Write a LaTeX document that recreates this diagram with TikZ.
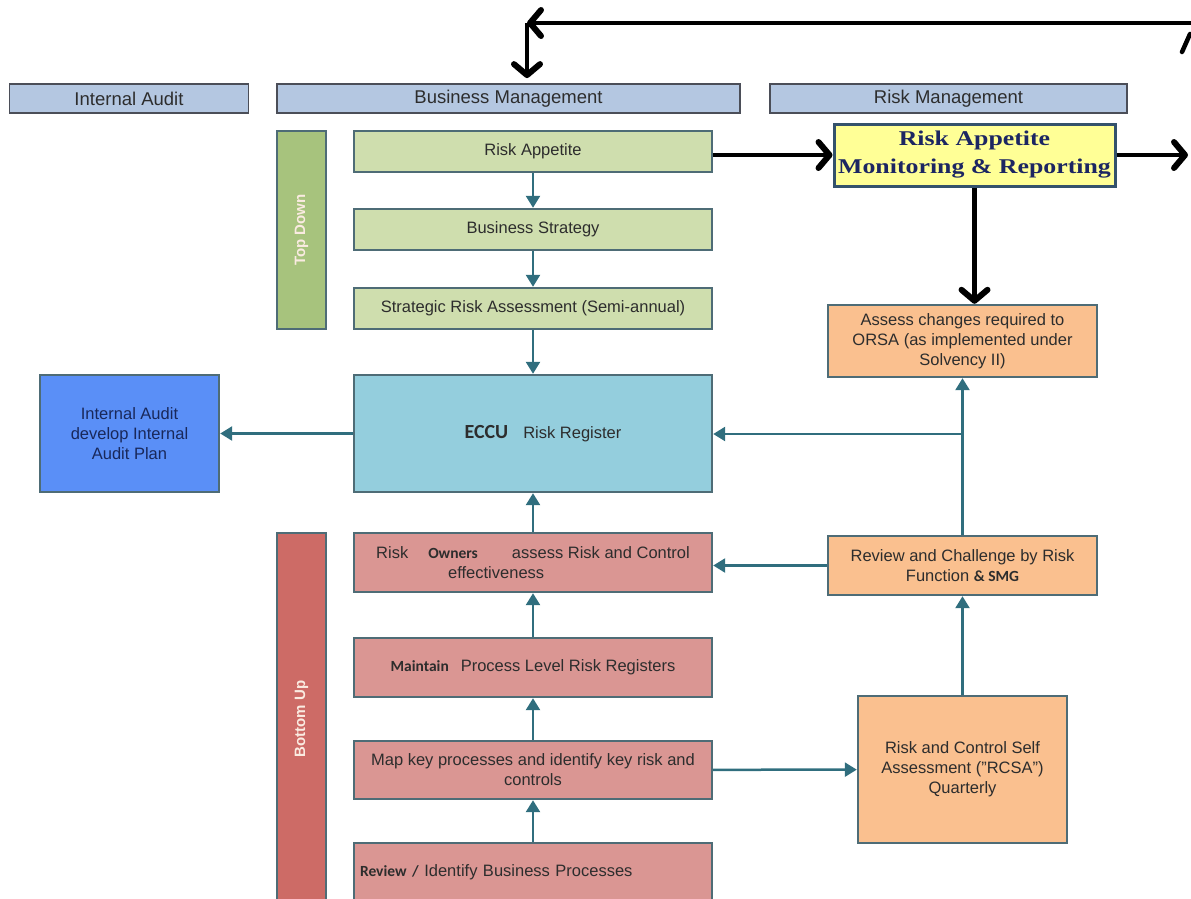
\documentclass[tikz,border=0pt]{standalone}
\usepackage{fontspec}
\setmainfont{Liberation Sans}
\newfontfamily\carl{Carlito}
\newfontfamily\rafont[FakeStretch=1.23]{Liberation Serif}
\usetikzlibrary{arrows.meta}
\definecolor{hdrfill}{RGB}{180,199,225}
\definecolor{hdrborder}{RGB}{75,78,88}
\definecolor{boxborder}{RGB}{78,108,118}
\definecolor{greenbox}{RGB}{207,222,174}
\definecolor{greenbar}{RGB}{167,195,125}
\definecolor{eccufill}{RGB}{148,206,221}
\definecolor{iablue}{RGB}{90,143,247}
\definecolor{pinkbox}{RGB}{218,150,147}
\definecolor{pinkbar}{RGB}{205,107,102}
\definecolor{orangebox}{RGB}{250,192,143}
\definecolor{yfill}{RGB}{255,255,150}
\definecolor{yborder}{RGB}{52,82,108}
\definecolor{navy}{RGB}{28,38,98}
\definecolor{teal}{RGB}{48,110,126}
\definecolor{txt}{RGB}{45,45,45}
\definecolor{iatxt}{RGB}{25,40,90}
\definecolor{bartxt}{RGB}{250,235,225}
\begin{document}
\begin{tikzpicture}[x=1pt,y=-1pt,
  hdr/.style={draw=hdrborder, line width=1.8pt, fill=hdrfill, inner sep=0pt, text=txt,
    font=\fontsize{18.5}{22}\selectfont},
  box/.style={draw=boxborder, line width=2.4pt, inner sep=0pt, align=center, text=txt,
    font=\fontsize{16.5}{20}\selectfont},
  bar/.style={draw=boxborder, line width=2.4pt, inner sep=0pt, rotate=90, text=bartxt,
    font=\bfseries\fontsize{15}{16}\selectfont},
  tl/.style={draw=teal, line width=2.5pt, -{Triangle[length=12pt,width=14pt]}},
  blk/.style={draw=black, line width=4.5pt,
    -{Straight Barb[length=11pt,width=26pt,line width=6pt,round]}},
  sb/.style={font=\carl\bfseries\fontsize{15.5}{20}\selectfont}
]
\useasboundingbox (0,0) rectangle (1191,898);
\clip (0,0) rectangle (1191,898);

% headers
\node[hdr, minimum width=239pt, minimum height=29pt] (hIA) at (129,98.5) {Internal Audit};
\node[hdr, minimum width=463pt, minimum height=29pt] (hBM) at (508.5,98.5) {Business Management};
\node[hdr, minimum width=357pt, minimum height=29pt] (hRM) at (948.5,98.5) {Risk Management};

% side bars
\node[bar, fill=greenbar, minimum width=198pt, minimum height=49pt] (td) at (301.5,230) {Top Down};
\node[bar, fill=pinkbar, minimum width=372pt, minimum height=49pt] (bu) at (301.5,719) {Bottom Up};

% top-down column
\node[box, fill=greenbox, minimum width=358pt, minimum height=41pt] (ra) at (533,151.5) {Risk Appetite};
\node[box, fill=greenbox, minimum width=358pt, minimum height=41pt] (bs) at (533,229.5) {Business Strategy};
\node[box, fill=greenbox, minimum width=358pt, minimum height=41pt] (sra) at (533,308.5) {Strategic Risk Assessment (Semi-annual)};

% register
\node[box, fill=eccufill, minimum width=358pt, minimum height=117pt] (eccu) at (533,433.5)
  {\hspace*{20pt}{\carl\bfseries\fontsize{20}{20}\selectfont ECCU}\hspace{15pt}Risk Register};
\node[box, fill=iablue, text=iatxt, minimum width=179pt, minimum height=117pt] (ia) at (129.5,433.5)
  {Internal Audit\\develop Internal\\Audit Plan};

% bottom-up column
\node[box, fill=pinkbox, align=left, minimum width=358pt, minimum height=59pt] (ro) at (533,562.5)
  {Risk\hspace{20pt}{\carl\bfseries\fontsize{15.5}{20}\selectfont Owners}\hspace{34pt}assess Risk and Control\\\hspace*{72pt}effectiveness};
\node[box, fill=pinkbox, minimum width=358pt, minimum height=59pt] (mt) at (533,667.5)
  {{\carl\bfseries\fontsize{15.5}{20}\selectfont Maintain}\hspace{12pt}Process Level Risk Registers};
\node[box, fill=pinkbox, minimum width=358pt, minimum height=58pt] (mk) at (533,770)
  {Map key processes and identify key risk and\\controls};
\node[box, fill=pinkbox, align=left, text width=346pt, minimum width=358pt, minimum height=58pt] (rv) at (533,872)
  {{\carl\bfseries\fontsize{15.5}{20}\selectfont Review /} Identify Business Processes};

% risk management column
\node[draw=yborder, line width=3pt, fill=yfill, inner sep=0pt, align=center, text=navy,
  minimum width=281pt, minimum height=62pt,
  font=\rafont\bfseries\fontsize{21}{28}\selectfont] (ya) at (974.5,155)
  {Risk Appetite\\Monitoring \& Reporting};
\node[box, fill=orangebox, minimum width=269pt, minimum height=72pt] (orsa) at (962.5,341)
  {Assess changes required to\\ORSA (as implemented under\\Solvency II)};
\node[box, fill=orangebox, minimum width=269pt, minimum height=59pt] (rc) at (962.5,565.5)
  {Review and Challenge by Risk\\Function {\carl\bfseries\fontsize{15.5}{20}\selectfont \& SMG}};
\node[box, fill=orangebox, minimum width=209pt, minimum height=147pt] (rcsa) at (962.5,769.5)
  {Risk and Control Self\\Assessment ("RCSA")\\Quarterly};

% black arrows
\coordinate (corner) at (527,23);
\coordinate (topR) at (1200,23);
\coordinate (rout) at (1188,155);
\draw[blk] (topR) -- (corner);
\draw[blk, shorten >=5pt] (corner) -- (corner |- hBM.north);
\draw[line width=4.5pt, line cap=round] (1182,52) -- (1190,34);
\draw[blk] (ya.west -| ra.east) -- (ya.west);
\draw[blk] (ya.east) -- (rout);
\draw[blk] (ya.south) -- (ya.south |- orsa.north);

% teal arrows
\draw[tl] (ra) -- (bs);
\draw[tl] (bs) -- (sra);
\draw[tl] (sra) -- (eccu);
\draw[tl] (eccu) -- (ia);
\draw[tl] (ro) -- (eccu);
\draw[tl] (mt) -- (ro);
\draw[tl] (mk) -- (mt);
\draw[tl] (rv) -- (mk);
\draw[tl] (mk) -- (rcsa);
\draw[tl] (rcsa) -- (rc);
\draw[tl] (rc.west) -- (rc.west -| ro.east);
\draw[tl] (rc) -- (orsa);
\coordinate (j) at (962.5,434);
\draw[tl] (j) -- (j -| eccu.east);
\end{tikzpicture}
\end{document}
